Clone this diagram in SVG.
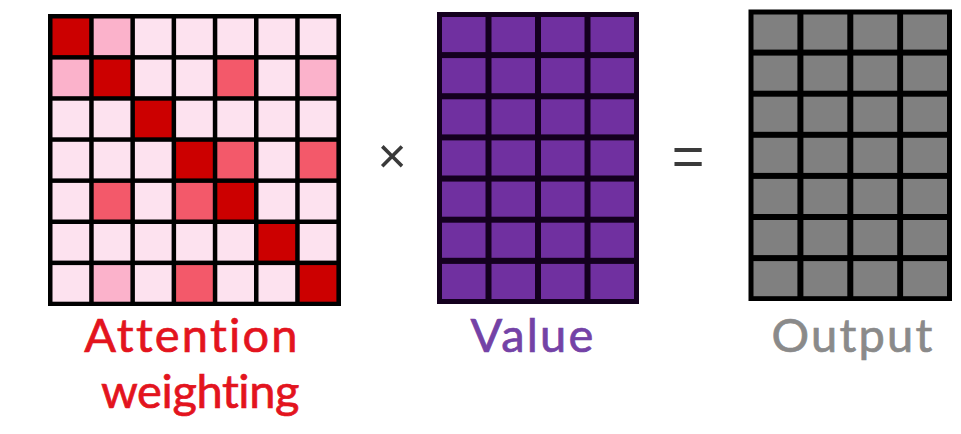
<svg xmlns="http://www.w3.org/2000/svg" width="961" height="434" viewBox="0 0 961 434">
<style>
.bg{fill:#ffffff}
.d{fill:#cc0000}
.l{fill:#fde2ef}
.p{fill:#fbb2cb}
.r{fill:#f3596a}
.v{fill:#7030a0}
.o{fill:#808080}
.lab{font-family:Lato,"Open Sans","Liberation Sans",sans-serif;font-size:47px;text-anchor:middle;font-variant-ligatures:none;font-feature-settings:"liga" 0;stroke-width:0.7px;letter-spacing:2.2px}
.op{font-family:"Liberation Sans",Arial,sans-serif;fill:#3a3a3a;text-anchor:middle}
</style>
<rect class="bg" x="0" y="0" width="961" height="434"/>
<g id="attention">
<rect x="48" y="14" width="293" height="292" fill="#000"/>
<rect class="d" x="52.5" y="18.5" width="36.7" height="36.6"/>
<rect class="p" x="93.7" y="18.5" width="36.7" height="36.6"/>
<rect class="l" x="134.9" y="18.5" width="36.7" height="36.6"/>
<rect class="l" x="176.1" y="18.5" width="36.7" height="36.6"/>
<rect class="l" x="217.3" y="18.5" width="36.7" height="36.6"/>
<rect class="l" x="258.5" y="18.5" width="36.7" height="36.6"/>
<rect class="l" x="299.7" y="18.5" width="36.7" height="36.6"/>
<rect class="p" x="52.5" y="59.6" width="36.7" height="36.6"/>
<rect class="d" x="93.7" y="59.6" width="36.7" height="36.6"/>
<rect class="l" x="134.9" y="59.6" width="36.7" height="36.6"/>
<rect class="l" x="176.1" y="59.6" width="36.7" height="36.6"/>
<rect class="r" x="217.3" y="59.6" width="36.7" height="36.6"/>
<rect class="l" x="258.5" y="59.6" width="36.7" height="36.6"/>
<rect class="p" x="299.7" y="59.6" width="36.7" height="36.6"/>
<rect class="l" x="52.5" y="100.7" width="36.7" height="36.6"/>
<rect class="l" x="93.7" y="100.7" width="36.7" height="36.6"/>
<rect class="d" x="134.9" y="100.7" width="36.7" height="36.6"/>
<rect class="l" x="176.1" y="100.7" width="36.7" height="36.6"/>
<rect class="l" x="217.3" y="100.7" width="36.7" height="36.6"/>
<rect class="l" x="258.5" y="100.7" width="36.7" height="36.6"/>
<rect class="l" x="299.7" y="100.7" width="36.7" height="36.6"/>
<rect class="l" x="52.5" y="141.8" width="36.7" height="36.6"/>
<rect class="l" x="93.7" y="141.8" width="36.7" height="36.6"/>
<rect class="l" x="134.9" y="141.8" width="36.7" height="36.6"/>
<rect class="d" x="176.1" y="141.8" width="36.7" height="36.6"/>
<rect class="r" x="217.3" y="141.8" width="36.7" height="36.6"/>
<rect class="l" x="258.5" y="141.8" width="36.7" height="36.6"/>
<rect class="r" x="299.7" y="141.8" width="36.7" height="36.6"/>
<rect class="l" x="52.5" y="182.9" width="36.7" height="36.6"/>
<rect class="r" x="93.7" y="182.9" width="36.7" height="36.6"/>
<rect class="l" x="134.9" y="182.9" width="36.7" height="36.6"/>
<rect class="r" x="176.1" y="182.9" width="36.7" height="36.6"/>
<rect class="d" x="217.3" y="182.9" width="36.7" height="36.6"/>
<rect class="l" x="258.5" y="182.9" width="36.7" height="36.6"/>
<rect class="l" x="299.7" y="182.9" width="36.7" height="36.6"/>
<rect class="l" x="52.5" y="224" width="36.7" height="36.6"/>
<rect class="l" x="93.7" y="224" width="36.7" height="36.6"/>
<rect class="l" x="134.9" y="224" width="36.7" height="36.6"/>
<rect class="l" x="176.1" y="224" width="36.7" height="36.6"/>
<rect class="l" x="217.3" y="224" width="36.7" height="36.6"/>
<rect class="d" x="258.5" y="224" width="36.7" height="36.6"/>
<rect class="l" x="299.7" y="224" width="36.7" height="36.6"/>
<rect class="l" x="52.5" y="265.1" width="36.7" height="36.6"/>
<rect class="p" x="93.7" y="265.1" width="36.7" height="36.6"/>
<rect class="l" x="134.9" y="265.1" width="36.7" height="36.6"/>
<rect class="r" x="176.1" y="265.1" width="36.7" height="36.6"/>
<rect class="l" x="217.3" y="265.1" width="36.7" height="36.6"/>
<rect class="l" x="258.5" y="265.1" width="36.7" height="36.6"/>
<rect class="d" x="299.7" y="265.1" width="36.7" height="36.6"/>
<text class="lab" x="192" y="352" fill="#e3141e" stroke="#e3141e">Attention</text>
<text class="lab" x="200" y="408" fill="#e3141e" stroke="#e3141e" style="letter-spacing:-0.4px">weighting</text>
</g>
<g id="times">
<text class="op" x="392" y="173" font-size="50">×</text>
</g>
<g id="value">
<rect x="437" y="12" width="202" height="292" fill="#14001e"/>
<rect class="v" x="442" y="17" width="43.5" height="35.1"/>
<rect class="v" x="491.5" y="17" width="43.5" height="35.1"/>
<rect class="v" x="541" y="17" width="43.5" height="35.1"/>
<rect class="v" x="590.5" y="17" width="43.5" height="35.1"/>
<rect class="v" x="442" y="58.1" width="43.5" height="35.1"/>
<rect class="v" x="491.5" y="58.1" width="43.5" height="35.1"/>
<rect class="v" x="541" y="58.1" width="43.5" height="35.1"/>
<rect class="v" x="590.5" y="58.1" width="43.5" height="35.1"/>
<rect class="v" x="442" y="99.3" width="43.5" height="35.1"/>
<rect class="v" x="491.5" y="99.3" width="43.5" height="35.1"/>
<rect class="v" x="541" y="99.3" width="43.5" height="35.1"/>
<rect class="v" x="590.5" y="99.3" width="43.5" height="35.1"/>
<rect class="v" x="442" y="140.4" width="43.5" height="35.1"/>
<rect class="v" x="491.5" y="140.4" width="43.5" height="35.1"/>
<rect class="v" x="541" y="140.4" width="43.5" height="35.1"/>
<rect class="v" x="590.5" y="140.4" width="43.5" height="35.1"/>
<rect class="v" x="442" y="181.6" width="43.5" height="35.1"/>
<rect class="v" x="491.5" y="181.6" width="43.5" height="35.1"/>
<rect class="v" x="541" y="181.6" width="43.5" height="35.1"/>
<rect class="v" x="590.5" y="181.6" width="43.5" height="35.1"/>
<rect class="v" x="442" y="222.7" width="43.5" height="35.1"/>
<rect class="v" x="491.5" y="222.7" width="43.5" height="35.1"/>
<rect class="v" x="541" y="222.7" width="43.5" height="35.1"/>
<rect class="v" x="590.5" y="222.7" width="43.5" height="35.1"/>
<rect class="v" x="442" y="263.9" width="43.5" height="35.1"/>
<rect class="v" x="491.5" y="263.9" width="43.5" height="35.1"/>
<rect class="v" x="541" y="263.9" width="43.5" height="35.1"/>
<rect class="v" x="590.5" y="263.9" width="43.5" height="35.1"/>
<text class="lab" x="533" y="352" fill="#7442a6" stroke="#7442a6">Value</text>
</g>
<g id="equals">
<text class="op" x="688" y="175" font-size="56">=</text>
</g>
<g id="output">
<rect x="748.5" y="9.5" width="203.5" height="291.5" fill="#000"/>
<rect class="o" x="753.5" y="14.5" width="43.9" height="35.1"/>
<rect class="o" x="803.4" y="14.5" width="43.9" height="35.1"/>
<rect class="o" x="853.3" y="14.5" width="43.9" height="35.1"/>
<rect class="o" x="903.1" y="14.5" width="43.9" height="35.1"/>
<rect class="o" x="753.5" y="55.6" width="43.9" height="35.1"/>
<rect class="o" x="803.4" y="55.6" width="43.9" height="35.1"/>
<rect class="o" x="853.3" y="55.6" width="43.9" height="35.1"/>
<rect class="o" x="903.1" y="55.6" width="43.9" height="35.1"/>
<rect class="o" x="753.5" y="96.7" width="43.9" height="35.1"/>
<rect class="o" x="803.4" y="96.7" width="43.9" height="35.1"/>
<rect class="o" x="853.3" y="96.7" width="43.9" height="35.1"/>
<rect class="o" x="903.1" y="96.7" width="43.9" height="35.1"/>
<rect class="o" x="753.5" y="137.8" width="43.9" height="35.1"/>
<rect class="o" x="803.4" y="137.8" width="43.9" height="35.1"/>
<rect class="o" x="853.3" y="137.8" width="43.9" height="35.1"/>
<rect class="o" x="903.1" y="137.8" width="43.9" height="35.1"/>
<rect class="o" x="753.5" y="178.9" width="43.9" height="35.1"/>
<rect class="o" x="803.4" y="178.9" width="43.9" height="35.1"/>
<rect class="o" x="853.3" y="178.9" width="43.9" height="35.1"/>
<rect class="o" x="903.1" y="178.9" width="43.9" height="35.1"/>
<rect class="o" x="753.5" y="220" width="43.9" height="35.1"/>
<rect class="o" x="803.4" y="220" width="43.9" height="35.1"/>
<rect class="o" x="853.3" y="220" width="43.9" height="35.1"/>
<rect class="o" x="903.1" y="220" width="43.9" height="35.1"/>
<rect class="o" x="753.5" y="261.1" width="43.9" height="35.1"/>
<rect class="o" x="803.4" y="261.1" width="43.9" height="35.1"/>
<rect class="o" x="853.3" y="261.1" width="43.9" height="35.1"/>
<rect class="o" x="903.1" y="261.1" width="43.9" height="35.1"/>
<text class="lab" x="853" y="352" fill="#8a8a8a" stroke="#8a8a8a">Output</text>
</g>
<g id="connectors"/>
</svg>
